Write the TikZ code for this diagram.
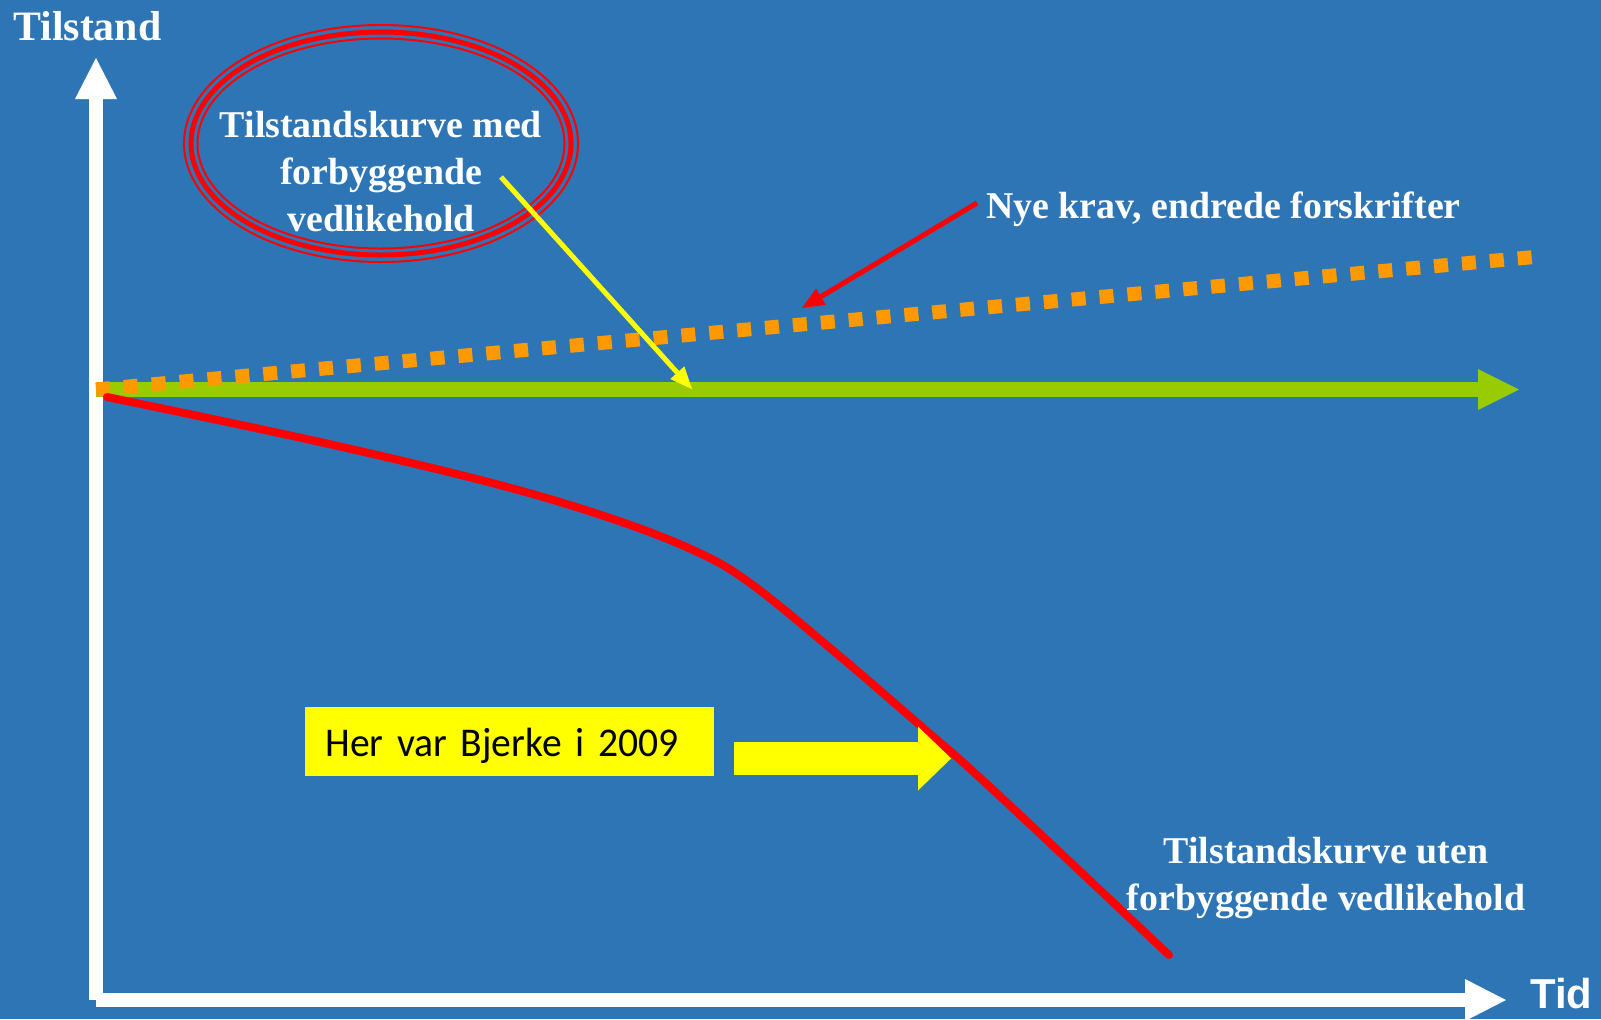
\documentclass[tikz,border=0pt]{standalone}
\usepackage{fontspec}
\setmainfont{Liberation Serif}
\newfontfamily\calibrifont[FakeStretch=0.97]{Carlito}
\newfontfamily\arialfont{Liberation Sans}
\usetikzlibrary{arrows.meta,positioning}
\definecolor{slide}{RGB}{46,117,182}
\definecolor{gress}{RGB}{153,204,0}
\definecolor{oransje}{RGB}{255,153,0}
\definecolor{rod}{RGB}{255,0,0}
\definecolor{gul}{RGB}{255,255,0}

\begin{document}
\begin{tikzpicture}[x=0.02cm,y=-0.02cm,
    akse/.style={white,line width=0.28cm,-{Triangle[length=0.82cm,width=0.84cm,line width=0pt]}},
    tynnpil/.style={line width=0.1cm,-{Triangle[length=0.44cm,width=0.38cm,line width=0pt]}},
    forklaring/.style={text=white,inner sep=0pt,align=center,font=\fontsize{21.54}{26.65}\selectfont\bfseries}]
  \useasboundingbox (0,0) rectangle (1601,1019);
  \fill[slide] (0,0) rectangle (1601,1019);

  \coordinate (origo) at (96,1000);
  \coordinate (ytopp) at (96,58);
  \coordinate (xende) at (1506,1000);
  \draw[akse] (origo) -- (ytopp);
  \draw[akse] (origo) -- (xende);
  \node[text=white,inner sep=0pt,anchor=base west,font=\fontsize{23.81}{28}\selectfont\bfseries] (tilstand) at (13,40) {Tilstand};
  \node[text=white,inner sep=0pt,anchor=base west,font=\arialfont\fontsize{23.81}{28}\selectfont\bfseries] (tid) at (1530,1008) {Tid};

  \coordinate (gronnstart) at (96,389.5);
  \coordinate (gronnspiss) at (1519,389.5);
  \draw[gress,line width=0.3cm,-{Triangle[length=0.82cm,width=0.82cm,line width=0pt]}] (gronnstart) -- (gronnspiss);
  \coordinate (kravslutt) at (1534,257);
  \draw[oransje,line width=0.28cm,dash pattern=on 0.28cm off 0.28cm] (gronnstart) -- (kravslutt);

  \draw[rod,line width=0.16cm,line cap=round] plot[smooth,tension=0.6] coordinates {(107,397) (320,442) (492,483) (607,517) (693,550) (750,583) (836,653) (922,727) (990,787) (1169,955)};

  \coordinate (ring) at (381,143.5);
  \foreach \r/\w in {0/0.04cm,7/0.1cm,13.5/0.04cm}
    \draw[rod,line width=\w] (ring) ellipse [x radius=197-\r, y radius=118.5-\r];
  \node[forklaring,anchor=north] (med) at (381,111) {Tilstandskurve med\\forbyggende\\vedlikehold};
  \node[forklaring,anchor=north] (uten) at (1326,837) {Tilstandskurve uten\\forbyggende vedlikehold};
  \node[forklaring,anchor=base west] (nye) at (986,218) {Nye krav, endrede forskrifter};

  \coordinate (medfot) at (501,177);
  \coordinate (medpil) at (692,389);
  \draw[gul,tynnpil] (medfot) -- (medpil);
  \coordinate (nyefot) at (977,203);
  \coordinate (kravpil) at (802,308);
  \draw[rod,tynnpil] (nyefot) -- (kravpil);

  \node[fill=gul,anchor=north west,text width=7.38cm,inner xsep=0.4cm,inner ysep=0pt,text height=0.98cm,text depth=0.4cm,align=left,font=\calibrifont\fontsize{23.24}{28}\selectfont] (bjerke) at (305,707) {Her var Bjerke i 2009};
  \coordinate (blokkstart) at (734,758.5);
  \coordinate (blokkspiss) at (951,758.5);
  \draw[gul,line width=0.66cm,-{Triangle[length=0.66cm,width=1.28cm,line width=0pt]}] (blokkstart) -- (blokkspiss);
\end{tikzpicture}
\end{document}
